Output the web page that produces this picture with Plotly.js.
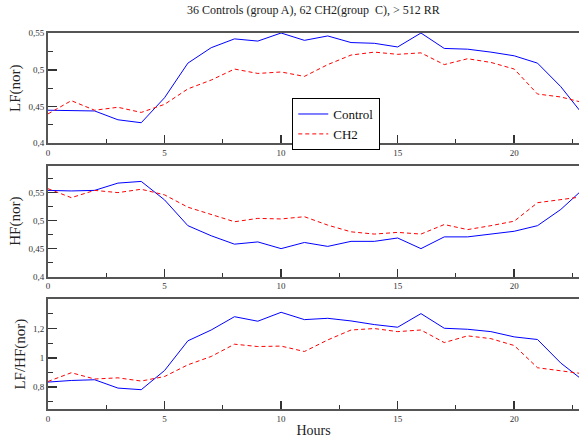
<!DOCTYPE html>
<html><head><meta charset="utf-8">
<script src="https://cdn.plot.ly/plotly-3.0.1.min.js"></script>
<style>html,body{margin:0;padding:0;background:#fff}</style>
</head><body>
<div id="chart" style="width:579px;height:439px"></div>
<script>
const hours = [0,1,2,3,4,5,6,7,8,9,10,11,12,13,14,15,16,17,18,19,20,21,22,23];
const lfControl = [0.445,0.445,0.444,0.432,0.428,0.462,0.509,0.530,0.542,0.539,0.550,0.540,0.546,0.537,0.536,0.531,0.550,0.529,0.528,0.524,0.519,0.509,0.477,0.437];
const lfCH2 = [0.440,0.458,0.445,0.449,0.442,0.453,0.474,0.486,0.501,0.495,0.497,0.491,0.507,0.520,0.524,0.521,0.523,0.507,0.515,0.510,0.501,0.467,0.463,0.455];
const hfControl = [0.554,0.553,0.554,0.567,0.570,0.537,0.491,0.473,0.458,0.462,0.450,0.461,0.454,0.463,0.463,0.469,0.450,0.471,0.471,0.476,0.481,0.491,0.520,0.558];
const hfCH2 = [0.557,0.541,0.554,0.550,0.556,0.546,0.524,0.511,0.498,0.504,0.503,0.507,0.492,0.480,0.476,0.479,0.476,0.493,0.484,0.491,0.499,0.532,0.538,0.543];
const ratioControl = [0.834,0.845,0.850,0.793,0.782,0.913,1.116,1.190,1.281,1.250,1.311,1.261,1.270,1.252,1.227,1.209,1.302,1.202,1.195,1.179,1.143,1.125,0.964,0.840];
const ratioCH2 = [0.838,0.898,0.855,0.863,0.841,0.872,0.952,1.009,1.093,1.077,1.080,1.043,1.122,1.190,1.200,1.179,1.190,1.104,1.150,1.131,1.084,0.932,0.911,0.890];
const xTicks = [0,5,10,15,20];
const lfTicks = [0.4,0.45,0.5,0.55];
const hfTicks = [0.4,0.45,0.5,0.55];
const ratioTicks = [0.8,1,1.2];

const ctrlLine = {color:'#0000ff', width:1};
const ch2Line = {color:'#ff0000', width:1, dash:'4px,3px'};
const traces = [
  {x:hours, y:lfControl, xaxis:'x', yaxis:'y', mode:'lines', name:'Control', line:ctrlLine},
  {x:hours, y:lfCH2, xaxis:'x', yaxis:'y', mode:'lines', name:'CH2', line:ch2Line},
  {x:hours, y:hfControl, xaxis:'x2', yaxis:'y2', mode:'lines', name:'Control', line:ctrlLine, showlegend:false},
  {x:hours, y:hfCH2, xaxis:'x2', yaxis:'y2', mode:'lines', name:'CH2', line:ch2Line, showlegend:false},
  {x:hours, y:ratioControl, xaxis:'x3', yaxis:'y3', mode:'lines', name:'Control', line:ctrlLine, showlegend:false},
  {x:hours, y:ratioCH2, xaxis:'x3', yaxis:'y3', mode:'lines', name:'CH2', line:ch2Line, showlegend:false}
];
const serif = '"Liberation Serif", "Times New Roman", serif';
function xax(anchor, title){
  const a = {anchor:anchor, range:[0,22.78], tickvals:xTicks, ticks:'inside', ticklen:8, tickwidth:1.5, tickcolor:'#333',
    minor:{ticks:'inside', ticklen:4, dtick:2.5, tick0:0, tickcolor:'#333', tickwidth:1},
    showline:true, mirror:true, linecolor:'#555', linewidth:2, showgrid:false, zeroline:false,
    tickfont:{family:serif, size:9, color:'#333'}};
  if(title) a.title = {text:title, font:{family:serif, size:14, color:'#222'}, standoff:2};
  return a;
}
function yax(domain, range, ticks, minor, title){
  return {domain:domain, range:range, tickvals:ticks, ticks:'inside', ticklen:9, tickwidth:1.5, tickcolor:'#333',
    minor:{ticks:'inside', ticklen:5, dtick:minor, tickcolor:'#333', tickwidth:1},
    showline:true, mirror:true, linecolor:'#555', linewidth:2, showgrid:false, zeroline:false,
    tickfont:{family:serif, size:9, color:'#333'},
    title:{text:title, font:{family:serif, size:15, color:'#222'}, standoff:4}};
}
const layout = {
  width:579, height:439,
  margin:{l:48, r:0, t:33, b:30},
  separators:',.',
  font:{family:serif},
  paper_bgcolor:'#fff', plot_bgcolor:'#fff',
  title:{text:'36 Controls (group A), 62 CH2(group\u00a0 C), > 512 RR', font:{family:serif, size:12, color:'#222'},
    x:0.5, xref:'paper', xanchor:'center', y:1-10/439, yref:'container', yanchor:'middle'},
  xaxis: xax('y'),
  xaxis2: xax('y2'),
  xaxis3: xax('y3', 'Hours'),
  yaxis: yax([0.7066,1], [0.4,0.55], lfTicks, 0.025, 'LF(nor)'),
  yaxis2: yax([0.352,0.647], [0.4,0.598], hfTicks, 0.025, 'HF(nor)'),
  yaxis3: yax([0,0.2918], [0.65,1.4], ratioTicks, 0.1, 'LF/HF(nor)'),
  showlegend:true,
  legend:{x:0.46, y:0.827, xanchor:'left', yanchor:'top', bordercolor:'#000', borderwidth:1, bgcolor:'#fff',
    font:{family:serif, size:13, color:'#111'}, tracegroupgap:0, itemwidth:30}
};
Plotly.newPlot('chart', traces, layout, {displayModeBar:false, staticPlot:true});
</script>
</body></html>
